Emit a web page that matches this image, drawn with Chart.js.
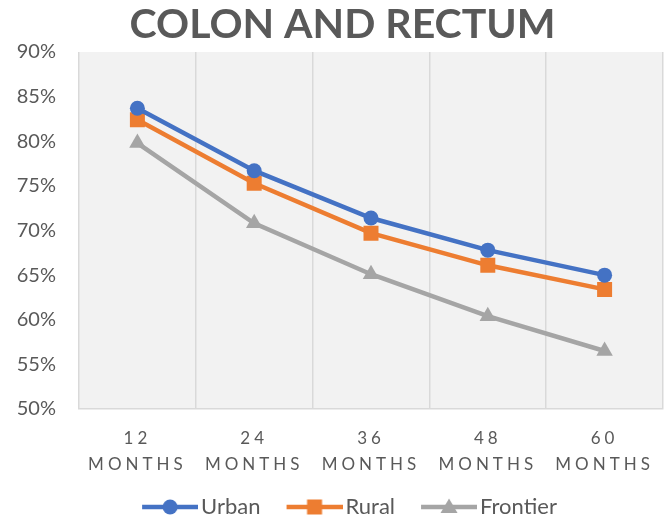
<!DOCTYPE html>
<html>
<head>
<meta charset="utf-8">
<script src="https://cdn.jsdelivr.net/npm/chart.js@4.4.1/dist/chart.umd.min.js"></script>
<style>
    html, body { margin: 0; padding: 0; background: #ffffff; }
    #wrap { width: 669px; height: 521px; }
</style>
</head>
<body>
<div id="wrap"><canvas id="survivalChart" width="669" height="521"></canvas></div>
<script>
// Colon and rectum survival by area type

const categories = [['12', 'MONTHS'], ['24', 'MONTHS'], ['36', 'MONTHS'], ['48', 'MONTHS'], ['60', 'MONTHS']];
const urban = [83.7, 76.7, 71.4, 67.8, 65.0];
const rural = [82.4, 75.3, 69.7, 66.1, 63.4];
const frontier = [79.8, 70.8, 65.1, 60.4, 56.5];
const yTicks = [50, 55, 60, 65, 70, 75, 80, 85, 90];

const TEXT_COLOR = '#595959';
const FONT = 'Lato, "Open Sans", sans-serif';

// legend icon: line with the marker in the middle
function legendIcon(color, style) {
    const c = document.createElement('canvas');
    c.width = 76;
    c.height = 22;
    const g = c.getContext('2d');
    g.strokeStyle = color;
    g.fillStyle = color;
    g.lineWidth = 4.5;
    g.beginPath();
    g.moveTo(20, 11);
    g.lineTo(76, 11);
    g.stroke();
    const cx = 48, cy = 11;
    g.beginPath();
    if (style === 'circle') {
        g.arc(cx, cy, 7.5, 0, Math.PI * 2);
    } else if (style === 'rect') {
        g.rect(cx - 7.5, cy - 7.5, 15, 15);
    } else {
        g.moveTo(cx, cy - 8.5);
        g.lineTo(cx + 8.5, cy + 6);
        g.lineTo(cx - 8.5, cy + 6);
        g.closePath();
    }
    g.fill();
    return c;
}

const icons = [
    legendIcon('#4472C4', 'circle'),
    legendIcon('#ED7D31', 'rect'),
    legendIcon('#A5A5A5', 'triangle')
];

// gray plot background + letter spacing on the x labels
const plotStyle = {
    id: 'plotStyle',
    afterLayout(chart) {
        // title and legend sit a little right of centre in the original
        if (chart.legend) {
            chart.legend.left += 12;
            chart.legend.right += 12;
        }
        if (chart.titleBlock) {
            chart.titleBlock.left += 11;
            chart.titleBlock.right += 11;
        }
    },
    beforeDraw(chart) {
        const { ctx, chartArea } = chart;
        ctx.save();
        ctx.fillStyle = '#F2F2F2';
        ctx.fillRect(chartArea.left, chartArea.top, chartArea.right - chartArea.left, chartArea.bottom - chartArea.top);
        ctx.restore();

        const xs = chart.scales.x;
        if (!xs._spaced) {
            const orig = xs.drawLabels;
            xs.drawLabels = function (area) {
                const c = this.ctx;
                const prev = c.letterSpacing;
                c.letterSpacing = '4px';
                orig.call(this, area);
                c.letterSpacing = prev;
            };
            xs._spaced = true;
        }
    }
};

function lineDataset(label, data, color, style, radius) {
    return {
        label: label,
        data: data,
        borderColor: color,
        backgroundColor: color,
        borderWidth: 4.5,
        pointStyle: style,
        pointRadius: radius,
        pointHoverRadius: radius,
        pointBackgroundColor: color,
        pointBorderColor: color,
        pointBorderWidth: 0,
        tension: 0
    };
}

const ctx = document.getElementById('survivalChart').getContext('2d');

new Chart(ctx, {
    type: 'line',
    data: {
        labels: categories,
        datasets: [
            lineDataset('Urban', urban, '#4472C4', 'circle', 7.5),
            lineDataset('Rural', rural, '#ED7D31', 'rect', 10.6),
            lineDataset('Frontier', frontier, '#A5A5A5', 'triangle', 9.5)
        ]
    },
    options: {
        responsive: false,
        animation: false,
        devicePixelRatio: 1,
        layout: { autoPadding: false, padding: { left: 0, right: 6, top: 0, bottom: -7 } },
        plugins: {
            title: {
                display: true,
                text: 'COLON AND RECTUM',
                color: TEXT_COLOR,
                font: { family: FONT, size: 41, weight: 'bold', lineHeight: 1.0 },
                padding: { top: 4, bottom: 7 }
            },
            legend: {
                position: 'bottom',
                labels: {
                    usePointStyle: true,
                    pointStyleWidth: 60,
                    padding: 14,
                    color: TEXT_COLOR,
                    font: { family: FONT, size: 22 },
                    generateLabels: (chart) =>
                        Chart.defaults.plugins.legend.labels.generateLabels(chart)
                            .map((item, i) => ({ ...item, pointStyle: icons[i] }))
                }
            },
            tooltip: { enabled: false }
        },
        scales: {
            x: {
                offset: true,
                grid: { display: true, offset: true, color: '#D9D9D9', lineWidth: 1.5, drawTicks: false },
                border: { display: true, color: '#D9D9D9', width: 1.5 },
                ticks: {
                    color: TEXT_COLOR,
                    font: { family: FONT, size: 17, lineHeight: 1.55 },
                    padding: 16,
                    maxRotation: 0,
                    autoSkip: false
                },
                afterFit: (scale) => { scale.height = 73; }
            },
            y: {
                min: 50,
                max: 90,
                grid: { display: false, drawTicks: false },
                border: { display: false },
                afterBuildTicks: (scale) => { scale.ticks = yTicks.map(v => ({ value: v })); },
                ticks: {
                    color: TEXT_COLOR,
                    font: { family: FONT, size: 20 },
                    padding: 23,
                    callback: (v) => v + '%'
                },
                afterFit: (scale) => { scale.width = 79; }
            }
        }
    },
    plugins: [plotStyle]
});
</script>
</body>
</html>
